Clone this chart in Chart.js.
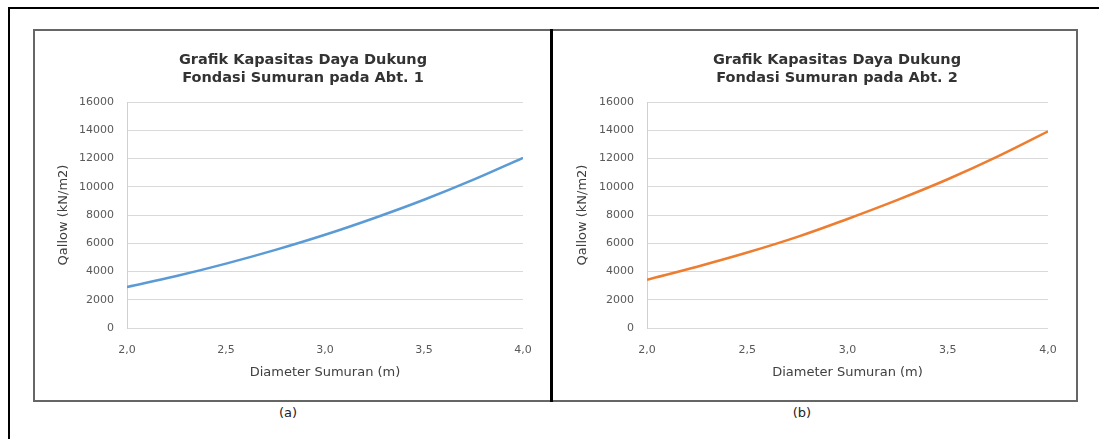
<!DOCTYPE html>
<html>
<head>
<meta charset="utf-8">
<script src="https://cdn.jsdelivr.net/npm/chart.js@4.4.1/dist/chart.umd.min.js"></script>
<style>
body{margin:0;background:#fff;width:1099px;height:439px;overflow:hidden;position:relative;font-family:"DejaVu Sans",sans-serif;}
#frame{position:absolute;left:8px;top:7px;width:1300px;height:600px;border:2px solid #000;box-sizing:border-box;}
.panel{position:absolute;top:29px;height:373px;border:2px solid #666;box-sizing:border-box;background:#fff;}
#pa{left:33px;width:519px;}
#pb{left:551px;width:527px;}
#divider{position:absolute;left:550px;top:29px;width:3px;height:373px;background:#000;}
canvas{position:absolute;}
#ca{left:35px;top:32px;}
#cb{left:553px;top:32px;}
.cap{position:absolute;top:405px;font-size:13px;color:#222;transform:translateX(-50%);}
</style>
</head>
<body>
<div id="frame"></div>
<div class="panel" id="pa"></div>
<div class="panel" id="pb"></div>
<div id="divider"></div>
<canvas id="ca" width="515" height="368"></canvas>
<canvas id="cb" width="524" height="368"></canvas>
<div class="cap" style="left:288px">(a)</div>
<div class="cap" style="left:802px">(b)</div>
<script>
// data
const diameters=[2.0,2.25,2.5,2.75,3.0,3.25,3.5,3.75,4.0];
const qallowAbt1=[2900,3680,4560,5530,6600,7790,9080,10500,12050];
const qallowAbt2=[3420,4340,5340,6450,7720,9070,10530,12150,13920];
const xTicks=[2.0,2.5,3.0,3.5,4.0];
const yTicks=[0,2000,4000,6000,8000,10000,12000,14000,16000];

const titleAbt1=["Grafik Kapasitas Daya Dukung","Fondasi Sumuran pada Abt. 1"];
const titleAbt2=["Grafik Kapasitas Daya Dukung","Fondasi Sumuran pada Abt. 2"];

Chart.defaults.font.family="DejaVu Sans";
Chart.defaults.color="#595959";

// padL: left padding, yWidth: y axis box, rightW: empty space right of plot (keeps title where Excel put it)
function makeChart(id,values,color,title,padL,yWidth,yTitlePad,rightW){

return new Chart(document.getElementById(id),{

type:"line",

data:{

datasets:[{

data:diameters.map((d,i)=>({x:d,y:values[i]})),

borderColor:color,

borderWidth:2.5,

tension:0.4,

pointRadius:0,

fill:false

}]

},

options:{

responsive:false,

animation:false,

layout:{padding:{left:padL,right:0,top:0,bottom:0}},

plugins:{

legend:{display:false},

tooltip:{enabled:false},

title:{

display:true,

text:title,

color:"#333",

font:{size:14.5,weight:"bold",lineHeight:"17.5px"},

padding:{top:19.5,bottom:15.5}

}

},

scales:{

x:{

type:"linear",

min:2,

max:4,

afterBuildTicks:s=>{s.ticks=xTicks.map(v=>({value:v}));},

afterFit:s=>{s.height=72;},

ticks:{

font:{size:11},

padding:16,

callback:v=>v.toFixed(1).replace(".",",")

},

grid:{display:false,drawTicks:false},

border:{display:false},

title:{

display:true,

text:"Diameter Sumuran (m)",

color:"#404040",

font:{size:13},

padding:{top:0,bottom:20}

}

},

y:{

min:0,

max:16000,

afterBuildTicks:s=>{s.ticks=yTicks.map(v=>({value:v}));},

afterFit:s=>{s.width=yWidth;},

ticks:{

font:{size:11},

padding:13,

callback:v=>String(v)

},

grid:{color:"#d9d9d9",lineWidth:1,drawTicks:false},

border:{display:true,color:"#d0d0d0",width:1},

title:{

display:true,

text:"Qallow (kN/m2)",

color:"#404040",

font:{size:13},

padding:{top:yTitlePad,bottom:0}

}

},

spare:{

type:"linear",

position:"right",

afterFit:s=>{s.width=rightW;},

ticks:{display:false},

grid:{display:false,drawTicks:false},

border:{display:false}

}

}

}

});

}

makeChart("ca",qallowAbt1,"#5B9BD5",titleAbt1,21,71,0,27);
makeChart("cb",qallowAbt2,"#ED7D31",titleAbt2,44,50,-22,29);
</script>
</body>
</html>
